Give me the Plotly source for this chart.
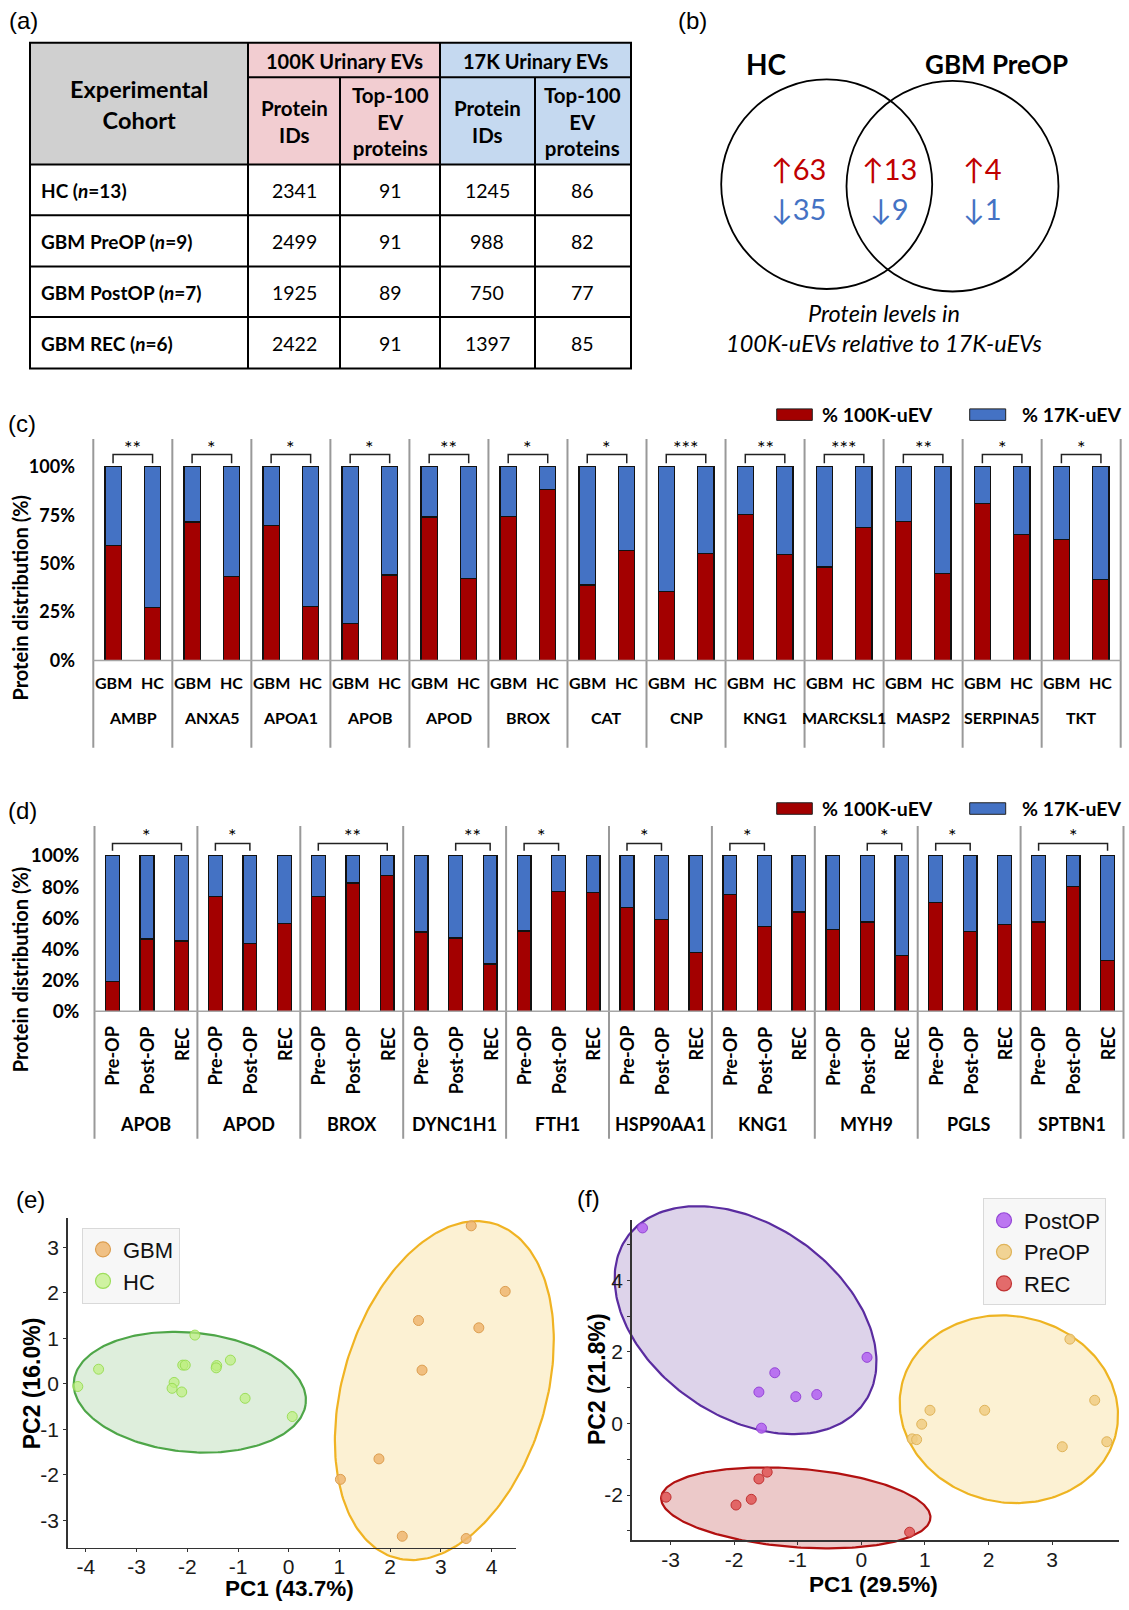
import numpy as np
import plotly.graph_objects as go

W, H = 1129, 1610

# ---------------------------------------------------------------- data
# (a) protein identifications per cohort and EV fraction
cohorts = ["HC", "GBM PreOP", "GBM PostOP", "GBM REC"]
cohort_n = [13, 9, 7, 6]
ids_100k = [2341, 2499, 1925, 2422]
top100_100k = [91, 91, 89, 91]
ids_17k = [1245, 988, 750, 1397]
top100_17k = [86, 82, 77, 85]
fraction_headers = ["100K Urinary EVs", "17K Urinary EVs"]
column_headers = ["Protein<br>IDs", "Top-100<br>EV<br>proteins"]

# (b) proteins enriched / depleted in 100K vs 17K: HC only, shared, PreOP only
venn_sets = ["HC", "GBM PreOP"]
venn_up = [63, 13, 4]
venn_down = [35, 9, 1]
venn_caption = ["Protein levels in", "100K-uEVs relative to 17K-uEVs"]

fraction_labels = ["% 100K-uEV", "% 17K-uEV"]

# (c) GBM vs HC: % of protein found in the 100K fraction
c_proteins = ["AMBP", "ANXA5", "APOA1", "APOB", "APOD", "BROX", "CAT",
              "CNP", "KNG1", "MARCKSL1", "MASP2", "SERPINA5", "TKT"]
c_groups = ["GBM", "HC"]
c_gbm = [59.3, 71.5, 69.6, 19.1, 74.0, 74.4, 39.0, 35.6, 75.4, 48.2, 71.6, 81.2, 62.4]
c_hc = [27.4, 43.4, 27.9, 44.1, 42.2, 88.4, 56.9, 55.2, 54.7, 68.5, 45.0, 65.0, 41.9]
c_sig = ["**", "*", "*", "*", "**", "*", "*", "***", "**", "***", "**", "*", "*"]
c_ticks = [0, 25, 50, 75, 100]

# (d) PreOP / PostOP / REC: % of protein found in the 100K fraction
d_proteins = ["APOB", "APOD", "BROX", "DYNC1H1", "FTH1",
              "HSP90AA1", "KNG1", "MYH9", "PGLS", "SPTBN1"]
d_groups = ["Pre-OP", "Post-OP", "REC"]
d_pre = [19.1, 74.0, 74.0, 51.1, 51.7, 66.6, 75.1, 52.6, 70.0, 57.4]
d_post = [46.6, 43.4, 82.6, 47.2, 77.2, 59.1, 54.7, 57.4, 51.5, 80.2]
d_rec = [45.3, 56.4, 87.2, 30.4, 76.6, 37.7, 63.8, 36.0, 56.0, 32.8]
d_sig = ["*", "*", "**", "**", "*", "*", "*", "*", "*", "*"]
d_sig_from = [0, 0, 0, 1, 0, 0, 0, 1, 0, 0]
d_sig_to = [2, 1, 2, 2, 1, 1, 1, 2, 1, 2]
d_ticks = [0, 20, 40, 60, 80, 100]

# (e) PCA, GBM vs HC
e_gbm_pc1 = [3.60, 4.27, 2.56, 3.75, 2.63, 1.78, 1.02, 2.24, 3.50]
e_gbm_pc2 = [3.47, 2.03, 1.39, 1.23, 0.30, -1.65, -2.10, -3.35, -3.40]
e_hc_pc1 = [-4.16, -3.75, -1.85, -2.09, -2.04, -2.26, -2.30, -2.11, -1.42, -1.43, -1.15, -0.86, 0.07]
e_hc_pc2 = [-0.06, 0.32, 1.07, 0.41, 0.41, 0.03, -0.10, -0.18, 0.40, 0.35, 0.52, -0.32, -0.72]
e_ell_cx = [3.07, -1.95]
e_ell_cy = [-0.15, -0.185]
e_ell_a = [3.80, 2.30]
e_ell_b = [2.02, 1.31]
e_ell_deg = [76.3, -6.5]
e_xticks = [-4, -3, -2, -1, 0, 1, 2, 3, 4]
e_yticks = [-3, -2, -1, 0, 1, 2, 3]

# (f) PCA, PostOP / PreOP / REC
f_post_pc1 = [-3.44, 0.09, -1.36, -1.61, -1.03, -0.70, -1.57]
f_post_pc2 = [5.47, 1.85, 1.42, 0.88, 0.75, 0.81, -0.13]
f_pre_pc1 = [3.28, 3.67, 1.08, 1.94, 0.95, 0.80, 0.87, 3.16, 3.86]
f_pre_pc2 = [2.36, 0.65, 0.37, 0.37, -0.02, -0.43, -0.45, -0.65, -0.51]
f_rec_pc1 = [-3.07, -1.97, -1.73, -1.61, -1.48, 0.76]
f_rec_pc2 = [-2.06, -2.28, -2.12, -1.55, -1.36, -3.04]
f_ell_cx = [-1.82, 2.32, -1.03]
f_ell_cy = [2.89, 0.40, -2.36]
f_ell_a = [3.32, 2.63, 2.14]
f_ell_b = [1.84, 1.71, 1.09]
f_ell_deg = [-70.5, -85.7, -9.7]
f_xticks = [-3, -2, -1, 0, 1, 2, 3]
f_yticks = [-2, 0, 2, 4]

# ---------------------------------------------------------------- helpers
TXT = "Lato"
SANS = "Liberation Sans"
RED = "#A30000"
BLUE = "#4472C4"
VENN_RED = "#C00000"
VENN_BLUE = "#4472C4"


def fx(x):
    return x / W


def fy(y):
    return 1 - y / H


shapes = []
annotations = []


def note(text, x, y, size, family=TXT, color="#000", xanchor="center",
         yanchor="middle", xref="paper", yref="paper", angle=0):
    annotations.append(dict(
        text=text, showarrow=False, textangle=angle,
        x=fx(x) if xref == "paper" else x,
        y=fy(y) if yref == "paper" else y,
        xref=xref, yref=yref, xanchor=xanchor, yanchor=yanchor,
        font=dict(family=family, size=size, color=color)))


def prect(x0, y0, x1, y1, fill, lw=0, lc="#000", layer="below"):
    shapes.append(dict(type="rect", xref="paper", yref="paper",
                       x0=fx(x0), x1=fx(x1), y0=fy(y1), y1=fy(y0),
                       fillcolor=fill, line=dict(width=lw, color=lc), layer=layer))


def pline(x0, y0, x1, y1, color="#000", width=2):
    shapes.append(dict(type="line", xref="paper", yref="paper",
                       x0=fx(x0), x1=fx(x1), y0=fy(y0), y1=fy(y1),
                       line=dict(color=color, width=width)))


def ellipse_xy(cx, cy, a, b, deg, n=240):
    t = np.linspace(0, 2 * np.pi, n)
    th = np.deg2rad(deg)
    x = cx + a * np.cos(t) * np.cos(th) - b * np.sin(t) * np.sin(th)
    y = cy + a * np.cos(t) * np.sin(th) + b * np.sin(t) * np.cos(th)
    return x, y


def pca_axes(x0px, xs, y0px, ys, left, right, top, bottom):
    """Axis domain/range pair for a given pixel box and data scale."""
    xa = dict(domain=[left / W, right / W],
              range=[(left - x0px) / xs, (right - x0px) / xs])
    ya = dict(domain=[1 - bottom / H, 1 - top / H],
              range=[(y0px - bottom) / ys, (y0px - top) / ys])
    return xa, ya


fig = go.Figure()

# ---------------------------------------------------------------- (a) table
TX = [30, 248, 340, 440, 535, 631]
TY = [43, 77.7, 165.7, 216.7, 268.3, 319.3, 371]
prect(TX[0], TY[0], TX[1], TY[2], "#D0D0D0")
prect(TX[1], TY[0], TX[3], TY[2], "#F2CDD1")
prect(TX[3], TY[0], TX[5], TY[2], "#C5D9F0")
for yy in [TY[0], TY[2], TY[3], TY[4], TY[5], TY[6]]:
    pline(TX[0] - 1, yy, TX[5] + 1, yy)
pline(TX[1], TY[1], TX[5], TY[1])
for xx in [TX[0], TX[1], TX[3], TX[5]]:
    pline(xx, TY[0], xx, TY[6])
for xx in [TX[2], TX[4]]:
    pline(xx, TY[1], xx, TY[6])

note("<b>Experimental<br>Cohort</b>", (TX[0] + TX[1]) / 2, 105.7, 23.5)
for k, hdr in enumerate(fraction_headers):
    note(f"<b>{hdr}</b>", (TX[1 + 2 * k] + TX[3 + 2 * k]) / 2, 61, 20)
for k in range(4):
    note(f"<b>{column_headers[k % 2]}</b>", (TX[1 + k] + TX[2 + k]) / 2, 122, 20.5)
table_cols = [ids_100k, top100_100k, ids_17k, top100_17k]
for r, name in enumerate(cohorts):
    yc = (TY[2 + r] + TY[3 + r]) / 2 + 1
    note(f"<b>{name} (<i>n</i>={cohort_n[r]})</b>", 38.5, yc, 19, xanchor="left")
    for k, col in enumerate(table_cols):
        note(str(col[r]), (TX[1 + k] + TX[2 + k]) / 2, yc, 19.5)

# ---------------------------------------------------------------- (b) Venn
venn_circles = [(826.7, 185.5, 105.5), (952.5, 187.5, 106)]
for cx, cy, r in venn_circles:
    shapes.append(dict(type="circle", xref="paper", yref="paper",
                       x0=fx(cx - r), x1=fx(cx + r), y0=fy(cy + r), y1=fy(cy - r),
                       line=dict(color="#000", width=1.8)))
note(f"<b>{venn_sets[0]}</b>", 766.7, 64, 28)
note(f"<b>{venn_sets[1]}</b>", 996.7, 64, 26)
venn_x = [798, 889, 982]
for k in range(3):
    note(f"\u2191{venn_up[k]}", venn_x[k], 170, 29, color=VENN_RED)
    note(f"\u2193{venn_down[k]}", venn_x[k], 210, 29, color=VENN_BLUE)
note(f"<i>{venn_caption[0]}</i>", 884, 315, 23.5)
note(f"<i>{venn_caption[1]}</i>", 884, 345, 23.5)

# ---------------------------------------------------------------- panel letters
for letter, x, y in [("(a)", 7, 21), ("(b)", 676, 21), ("(c)", 6, 426),
                     ("(d)", 6, 816), ("(e)", 14, 1208), ("(f)", 575, 1207)]:
    note(letter, x, y, 24, family=SANS, xanchor="left")


# ---------------------------------------------------------------- fraction legends
def fraction_legend(ytop):
    boxes = [(776.7, 812.3, RED), (969.7, 1005.7, BLUE)]
    text_x = [819.5, 1019.5]
    for k, (x0, x1, col) in enumerate(boxes):
        prect(x0, ytop, x1, ytop + 11.6, col, lw=1, lc="#222", layer="above")
        note(f"<b>{fraction_labels[k]}</b>", text_x[k], ytop + 6, 19.5, xanchor="left")


# ---------------------------------------------------------------- (c) bars
c_n = len(c_proteins)
c_off = [0.25, 0.75]
c_vals = [c_gbm, c_hc]
c_x = [i + c_off[g] for g in range(2) for i in range(c_n)]
c_red = [c_vals[g][i] for g in range(2) for i in range(c_n)]
c_blue = [100 - v for v in c_red]
bar_line = dict(color="#111", width=1.3)
fig.add_trace(go.Bar(x=c_x, y=c_red, width=0.205, name=fraction_labels[0],
                     marker=dict(color=RED, line=bar_line), xaxis="x", yaxis="y",
                     showlegend=False, hoverinfo="skip"))
fig.add_trace(go.Bar(x=c_x, y=c_blue, width=0.205, name=fraction_labels[1],
                     marker=dict(color=BLUE, line=bar_line), xaxis="x", yaxis="y",
                     showlegend=False, hoverinfo="skip"))

C_TOP, C_BASE, C_BOTTOM = 442, 665, 753
for i in range(c_n + 1):
    shapes.append(dict(type="line", xref="x", yref="paper", x0=i, x1=i,
                       y0=fy(C_TOP), y1=fy(C_BOTTOM), line=dict(color="#999", width=2)))
shapes.append(dict(type="line", xref="x", yref="paper", x0=0, x1=c_n,
                   y0=fy(C_BASE), y1=fy(C_BASE), line=dict(color="#A6A6A6", width=1.5)))
for i in range(c_n):
    xa, xb = i + c_off[0], i + c_off[1]
    shapes.append(dict(type="path", xref="x", yref="y",
                       path=f"M{xa},101.8 L{xa},106.4 L{xb},106.4 L{xb},101.8",
                       line=dict(color="#222", width=1.5)))
    note(c_sig[i], i + 0.5, 110.3, 20, xref="x", yref="y")
    for g in range(2):
        note(f"<b>{c_groups[g]}</b>", i + c_off[g], 687.3, 16, xref="x")
    note(f"<b>{c_proteins[i]}</b>", i + 0.5, 722.7, 16, xref="x")
note("<b>Protein distribution (%)</b>", 20, 601.7, 20, angle=-90)
fraction_legend(411.7)

# ---------------------------------------------------------------- (d) bars
d_n = len(d_proteins)
d_off = [0.175, 0.51, 0.845]
d_vals = [d_pre, d_post, d_rec]
d_x = [i + d_off[g] for g in range(3) for i in range(d_n)]
d_red = [d_vals[g][i] for g in range(3) for i in range(d_n)]
d_blue = [100 - v for v in d_red]
fig.add_trace(go.Bar(x=d_x, y=d_red, width=0.134, name=fraction_labels[0],
                     marker=dict(color=RED, line=bar_line), xaxis="x2", yaxis="y2",
                     showlegend=False, hoverinfo="skip"))
fig.add_trace(go.Bar(x=d_x, y=d_blue, width=0.134, name=fraction_labels[1],
                     marker=dict(color=BLUE, line=bar_line), xaxis="x2", yaxis="y2",
                     showlegend=False, hoverinfo="skip"))

D_TOP, D_BASE, D_BOTTOM = 831.7, 1018.3, 1146.7
for i in range(d_n + 1):
    shapes.append(dict(type="line", xref="x2", yref="paper", x0=i, x1=i,
                       y0=fy(D_TOP), y1=fy(D_BOTTOM), line=dict(color="#999", width=2)))
shapes.append(dict(type="line", xref="x2", yref="paper", x0=0, x1=d_n,
                   y0=fy(D_BASE), y1=fy(D_BASE), line=dict(color="#A6A6A6", width=1.5)))
for i in range(d_n):
    xa, xb = i + d_off[d_sig_from[i]], i + d_off[d_sig_to[i]]
    shapes.append(dict(type="path", xref="x2", yref="y2",
                       path=f"M{xa},103.2 L{xa},107.9 L{xb},107.9 L{xb},103.2",
                       line=dict(color="#222", width=1.5)))
    note(d_sig[i], (xa + xb) / 2, 113.3, 20, xref="x2", yref="y2")
    for g in range(3):
        note(f"<b>{d_groups[g]}</b>", i + d_off[g], 1031.7, 18, xref="x2",
             yanchor="top", angle=-90)
    note(f"<b>{d_proteins[i]}</b>", i + 0.5, 1131.7, 18, xref="x2")
note("<b>Protein distribution (%)</b>", 20, 976, 20, angle=-90)
fraction_legend(808.3)

# ---------------------------------------------------------------- (e) PCA
e_groups = [("GBM", e_gbm_pc1, e_gbm_pc2, "rgba(238,182,112,0.85)", "#DC9E50"),
            ("HC", e_hc_pc1, e_hc_pc2, "rgba(190,240,125,0.7)", "rgba(150,220,80,0.9)")]
e_ell_style = [("#F0B323", "rgba(245,200,80,0.25)"), ("#4EA648", "rgba(90,170,80,0.2)")]
for k in range(2):
    ex, ey = ellipse_xy(e_ell_cx[k], e_ell_cy[k], e_ell_a[k], e_ell_b[k], e_ell_deg[k])
    fig.add_trace(go.Scatter(x=ex, y=ey, mode="lines", fill="toself",
                             fillcolor=e_ell_style[k][1],
                             line=dict(color=e_ell_style[k][0], width=2.2),
                             xaxis="x3", yaxis="y3", showlegend=False, hoverinfo="skip"))
for name, px_, py_, fc, lc in e_groups:
    fig.add_trace(go.Scatter(x=px_, y=py_, mode="markers", name=name,
                             marker=dict(size=10, color=fc, line=dict(color=lc, width=1)),
                             xaxis="x4", yaxis="y4", showlegend=False, hoverinfo="skip"))
    fig.add_trace(go.Scatter(x=[None], y=[None], mode="markers", name=name,
                             marker=dict(size=15, color=fc, line=dict(color=lc, width=1.2)),
                             xaxis="x4", yaxis="y4", legend="legend"))

# ---------------------------------------------------------------- (f) PCA
f_groups = [("PostOP", f_post_pc1, f_post_pc2, "rgba(180,100,240,0.88)", "#9446D6"),
            ("PreOP", f_pre_pc1, f_pre_pc2, "rgba(240,205,130,0.85)", "#E0B45A"),
            ("REC", f_rec_pc1, f_rec_pc2, "rgba(224,88,88,0.88)", "#C03232")]
f_ell_style = [("#5A2CA0", "rgba(120,80,170,0.25)"),
               ("#EEB422", "rgba(245,200,80,0.25)"),
               ("#B21010", "rgba(180,40,40,0.25)")]
for k in range(3):
    ex, ey = ellipse_xy(f_ell_cx[k], f_ell_cy[k], f_ell_a[k], f_ell_b[k], f_ell_deg[k])
    fig.add_trace(go.Scatter(x=ex, y=ey, mode="lines", fill="toself",
                             fillcolor=f_ell_style[k][1],
                             line=dict(color=f_ell_style[k][0], width=2.2),
                             xaxis="x5", yaxis="y5", showlegend=False, hoverinfo="skip"))
for name, px_, py_, fc, lc in f_groups:
    fig.add_trace(go.Scatter(x=px_, y=py_, mode="markers", name=name,
                             marker=dict(size=10, color=fc, line=dict(color=lc, width=1)),
                             xaxis="x6", yaxis="y6", showlegend=False, hoverinfo="skip"))
    fig.add_trace(go.Scatter(x=[None], y=[None], mode="markers", name=name,
                             marker=dict(size=15, color=fc, line=dict(color=lc, width=1.2)),
                             xaxis="x6", yaxis="y6", legend="legend2"))

note("<b>PC1 (43.7%)</b>", 289.3, 1599.5, 22.5, family=SANS)
note("<b>PC2 (16.0%)</b>", 31.5, 1393.3, 23, family=SANS, angle=-90)
note("<b>PC1 (29.5%)</b>", 873.7, 1595, 22.5, family=SANS)
note("<b>PC2 (21.8%)</b>", 597, 1388.5, 23, family=SANS, angle=-90)

# ---------------------------------------------------------------- axes
hidden = dict(visible=False, fixedrange=True)
tick_font_bold = dict(family=TXT, size=18, color="#000", weight="bold")

ax_c_x = dict(hidden, domain=[(93.3 - 0.03 * 79.03) / W, (93.3 + 13.03 * 79.03) / W],
              range=[-0.03, c_n + 0.03], anchor="y")
ax_c_y = dict(domain=[1 - C_BASE / H, 1 - C_TOP / H], range=[0, (C_BASE - C_TOP) / 1.95],
              anchor="x", showgrid=False, zeroline=False, showline=False, ticks="",
              tickvals=c_ticks, ticktext=[f"{v}%" for v in c_ticks],
              tickfont=tick_font_bold, ticklabelstandoff=15, fixedrange=True)

ax_d_x = dict(hidden, domain=[(94.5 - 0.03 * 102.9) / W, (94.5 + 10.03 * 102.9) / W],
              range=[-0.03, d_n + 0.03], anchor="y2")
ax_d_y = dict(domain=[1 - D_BASE / H, 1 - D_TOP / H], range=[0, (D_BASE - D_TOP) / 1.566],
              anchor="x2", showgrid=False, zeroline=False, showline=False, ticks="",
              tickvals=d_ticks, ticktext=[f"{v}%" for v in d_ticks],
              tickfont=dict(tick_font_bold, size=19), ticklabelstandoff=11, fixedrange=True)

pca_common = dict(showgrid=False, zeroline=False, showline=True, linecolor="#333",
                  linewidth=1.5, ticks="outside", ticklen=3, tickwidth=1,
                  tickcolor="#333", tickfont=dict(family=SANS, size=21, color="#1a1a1a"),
                  fixedrange=True)

# (e): pixel position of data origin and pixels per unit
E_SCALE = (288.7, 50.7, 1393.3, 45.83)
e_bg_x, e_bg_y = pca_axes(*E_SCALE, 55, 565, 1190, 1605)
e_x, e_y = pca_axes(*E_SCALE, 67.7, 516, 1226.7, 1558.3)
ax_e_bg_x = dict(hidden, **e_bg_x, anchor="y3")
ax_e_bg_y = dict(hidden, **e_bg_y, anchor="x3")
ax_e_x = dict(pca_common, **e_x, anchor="y4", tickvals=e_xticks,
              ticktext=[str(v) for v in e_xticks], ticklabelstandoff=-3)
ax_e_y = dict(pca_common, **e_y, anchor="x4", tickvals=e_yticks,
              ticktext=[str(v) for v in e_yticks])

# (f)
F_SCALE = (861.3, 63.6, 1433.3, 36.0)
f_bg_x, f_bg_y = pca_axes(*F_SCALE, 585, 1129, 1190, 1605)
f_x, f_y = pca_axes(*F_SCALE, 631.7, 1119, 1228.3, 1550.7)
ax_f_bg_x = dict(hidden, **f_bg_x, anchor="y5")
ax_f_bg_y = dict(hidden, **f_bg_y, anchor="x5")
ax_f_x = dict(pca_common, **f_x, anchor="y6", tickvals=f_xticks,
              ticktext=[str(v) for v in f_xticks], ticklabelstandoff=-3)
ax_f_y = dict(pca_common, **f_y, anchor="x6", tickvals=f_yticks,
              ticktext=[str(v) for v in f_yticks],
              minor=dict(tickvals=[-3, -1, 1, 3, 5], ticks="outside", ticklen=3,
                         tickcolor="#333"))

legend_style = dict(bgcolor="#F7F7F7", bordercolor="#D9D9D9", borderwidth=1,
                    font=dict(family=SANS, size=22, color="#111"),
                    xanchor="left", yanchor="top", itemsizing="trace",
                    traceorder="normal")

fig.update_layout(
    width=W, height=H, autosize=False,
    margin=dict(l=0, r=0, t=0, b=0, pad=0),
    paper_bgcolor="white", plot_bgcolor="rgba(0,0,0,0)",
    barmode="stack", bargap=0, hovermode=False, showlegend=True,
    xaxis=ax_c_x, yaxis=ax_c_y,
    xaxis2=ax_d_x, yaxis2=ax_d_y,
    xaxis3=ax_e_bg_x, yaxis3=ax_e_bg_y,
    xaxis4=ax_e_x, yaxis4=ax_e_y,
    xaxis5=ax_f_bg_x, yaxis5=ax_f_bg_y,
    xaxis6=ax_f_x, yaxis6=ax_f_y,
    legend=dict(legend_style, x=fx(82), y=fy(1236)),
    legend2=dict(legend_style, x=fx(983), y=fy(1206.7)),
    shapes=shapes,
    annotations=annotations,
)

fig.write_html("out.html", config={"displayModeBar": False, "staticPlot": True})
